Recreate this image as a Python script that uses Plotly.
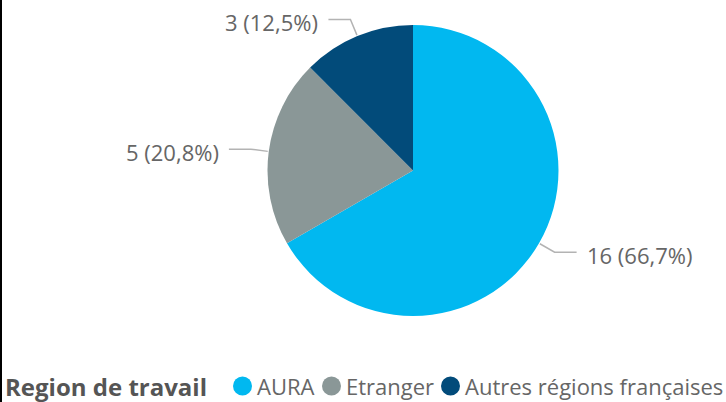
import math
import plotly.graph_objects as go

categories = ["AURA", "Etranger", "Autres régions françaises"]
values = [16, 5, 3]
colors = ["#01B8F0", "#8A9797", "#024B7A"]
legend_title = "Region de travail"

W, H = 726, 402
FONT = "Segoe UI, Open Sans, sans-serif"

# pie geometry (pixels)
cx, cy, r = 413, 170.5, 145.5
dom_x = [(cx - r) / W, (cx + r) / W]
dom_y = [1 - (cy + r) / H, 1 - (cy - r) / H]

fig = go.Figure()
fig.add_trace(go.Pie(
    labels=categories, values=values, sort=False, direction="clockwise",
    rotation=0, marker=dict(colors=colors, line=dict(width=0)),
    textinfo="none", hoverinfo="label+value+percent", showlegend=False,
    domain=dict(x=dom_x, y=dom_y),
))

def px(x):
    return x / W

def py(y):
    return 1 - y / H

total = sum(values)
shapes = []
annotations = []
cum = 0
for cat, v in zip(categories, values):
    mid = (cum + v / 2) / total * 2 * math.pi
    cum += v
    dx, dy = math.sin(mid), -math.cos(mid)
    x0, y0 = cx + (r + 1) * dx, cy + (r + 1) * dy
    x1, y1 = cx + (r + 18) * dx, cy + (r + 18) * dy
    side = 1 if dx >= 0 else -1
    x2 = x1 + side * 22
    path = f"M {px(x0)} {py(y0)} L {px(x1)} {py(y1)} L {px(x2)} {py(y1)}"
    shapes.append(dict(type="path", xref="paper", yref="paper", path=path,
                       line=dict(color="#B3B3B3", width=1.5)))
    pct = f"{v / total * 100:.1f}".replace(".", ",")
    annotations.append(dict(
        x=px(x2 + side * 8), y=py(y1 + 3), xref="paper", yref="paper",
        text=f"{v} ({pct}%)", showarrow=False,
        xanchor="left" if side > 0 else "right", yanchor="middle",
        font=dict(family=FONT, size=22, color="#666666"),
    ))

# left border
shapes.append(dict(type="line", xref="paper", yref="paper",
                   x0=px(1), x1=px(1), y0=0, y1=1,
                   line=dict(color="#000000", width=2)))

# legend (drawn manually to match layout)
leg_y = 386
annotations.append(dict(x=px(3), y=py(leg_y), xref="paper", yref="paper",
                        text=f"<b>{legend_title}</b>", showarrow=False,
                        xanchor="left", yanchor="middle",
                        font=dict(family=FONT, size=24, color="#555555")))
leg_x = [233, 322, 441]
for cat, col, lx in zip(categories, colors, leg_x):
    shapes.append(dict(type="circle", xref="paper", yref="paper",
                       x0=px(lx), x1=px(lx + 19), y0=py(leg_y + 9.5), y1=py(leg_y - 9.5),
                       fillcolor=col, line=dict(width=0)))
    annotations.append(dict(x=px(lx + 22), y=py(leg_y), xref="paper", yref="paper",
                            text=cat, showarrow=False, xanchor="left", yanchor="middle",
                            font=dict(family=FONT, size=22, color="#666666")))

fig.update_layout(
    width=W, height=H, margin=dict(l=0, r=0, t=0, b=0),
    paper_bgcolor="white", plot_bgcolor="white",
    shapes=shapes, annotations=annotations, showlegend=False,
)
fig.write_html("out.html", config={"displayModeBar": False},
               post_script="document.body.style.margin='0px';document.body.style.overflow='hidden';")
